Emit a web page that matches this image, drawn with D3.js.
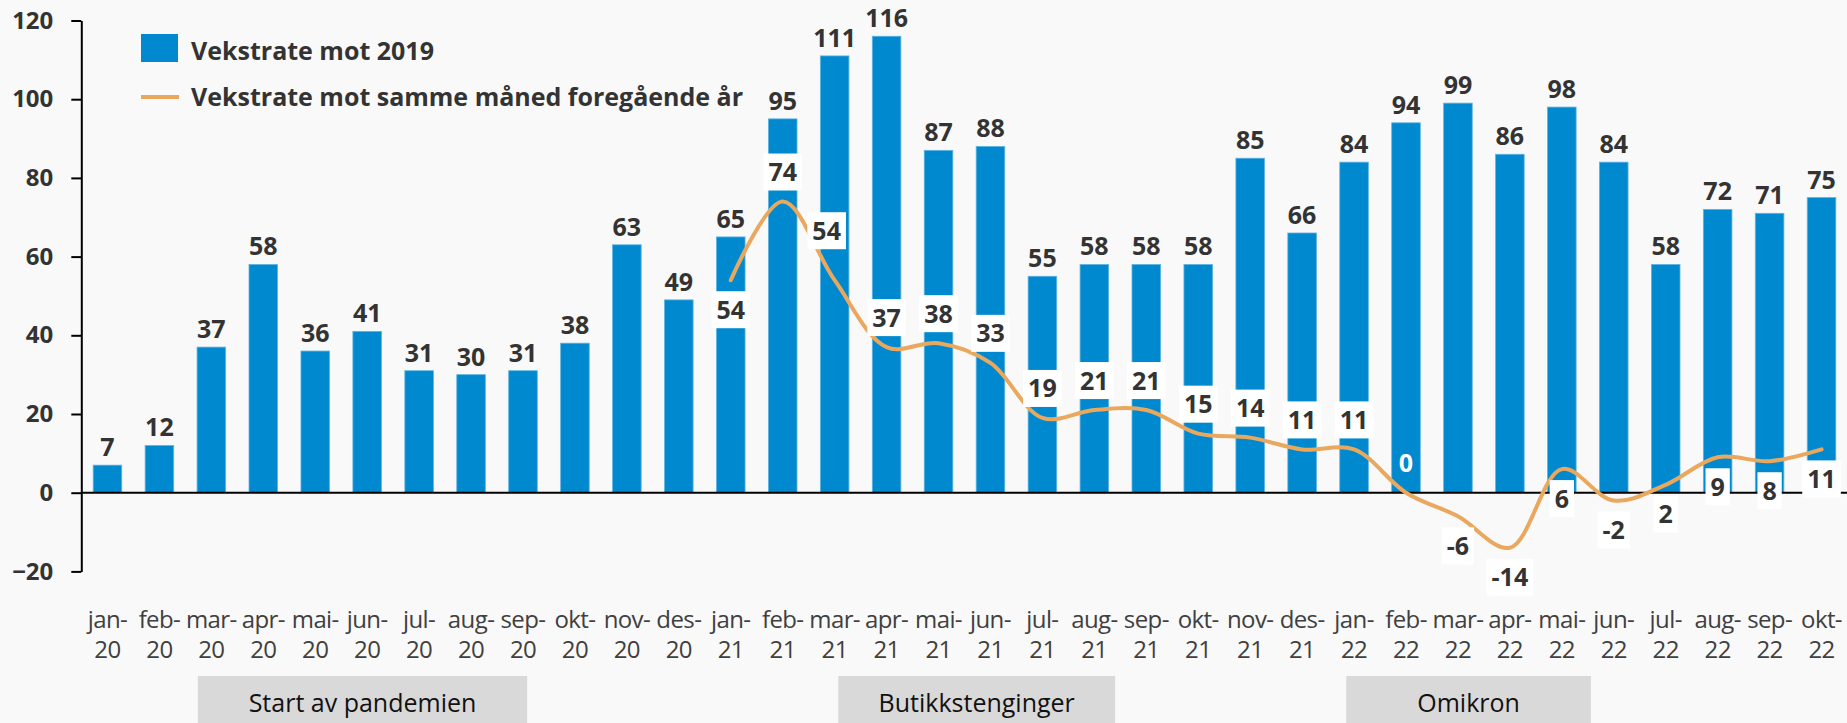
<!DOCTYPE html>
<html>
<head>
<meta charset="utf-8">
<script src="https://cdn.jsdelivr.net/npm/d3@7/dist/d3.min.js"></script>
<style>
  body { margin: 0; background: #f9f9f9; }
  svg text { font-family: "Open Sans", sans-serif; }
</style>
</head>
<body>
<script>
const categories = [
    "jan-20","feb-20","mar-20","apr-20","mai-20","jun-20","jul-20","aug-20","sep-20","okt-20","nov-20","des-20",
    "jan-21","feb-21","mar-21","apr-21","mai-21","jun-21","jul-21","aug-21","sep-21","okt-21","nov-21","des-21",
    "jan-22","feb-22","mar-22","apr-22","mai-22","jun-22","jul-22","aug-22","sep-22","okt-22"
]
// Vekstrate mot 2019
const vs2019 = [
    7, 12, 37, 58, 36, 41, 31, 30, 31, 38, 63, 49,
    65, 95, 111, 116, 87, 88, 55, 58, 58, 58, 85, 66,
    84, 94, 99, 86, 98, 84, 58, 72, 71, 75
]
// Vekstrate mot samme måned foregående år (from jan-21)
const vsPrevYear = [
    null, null, null, null, null, null, null, null, null, null, null, null,
    54, 74, 54, 37, 38, 33, 19, 21, 21, 15, 14, 11,
    11, 0, -6, -14, 6, -2, 2, 9, 8, 11
]
const yTicks = [-20, 0, 20, 40, 60, 80, 100, 120]
const legendNames = ["Vekstrate mot 2019", "Vekstrate mot samme måned foregående år"]
// spans given in month-index units (0 = jan-20)
const periods = [
    { text: "Start av pandemien", from: 1.74, to: 8.08 },
    { text: "Butikkstenginger", from: 14.07, to: 19.4 },
    { text: "Omikron", from: 23.85, to: 28.56 }
]

// label placement for the line series (layout only)
const lineLabelSide = {
    "jan-21": "below", "mar-22": "below", "apr-22": "below", "mai-22": "below", "jun-22": "below",
    "jul-22": "below", "aug-22": "below", "sep-22": "below", "okt-22": "below"
}

const width = 1847
const height = 723
const blue = "#0089ce"
const orange = "#e9a85e"
const textColor = "#333"

const svg = d3.select("body").append("svg")
    .attr("width", width)
    .attr("height", height)

const x = d3.scaleBand()
    .domain(categories)
    .range([81.5, 1847.5])
    .paddingInner(0.45)
    .paddingOuter(0.225)

const y = d3.scaleLinear()
    .domain([-20, 120])
    .range([571.4, 20.5])

const cx = d => x(d) + x.bandwidth() / 2

// y axis
const yAxis = svg.append("g")
    .attr("transform", "translate(81.3,0)")
    .call(d3.axisLeft(y).tickValues(yTicks).tickSize(10).tickSizeOuter(0).tickPadding(18))
yAxis.select(".domain").attr("stroke", "#000").attr("stroke-width", 2)
yAxis.selectAll(".tick line").attr("stroke", "#000").attr("stroke-width", 2)
yAxis.selectAll(".tick text")
    .attr("fill", textColor)
    .attr("font-size", 24)
    .attr("font-weight", "bold")
    .attr("font-family", "Open Sans")

// bars
svg.append("g")
    .selectAll("rect")
    .data(categories)
    .join("rect")
    .attr("x", d => x(d))
    .attr("width", x.bandwidth())
    .attr("y", (d, i) => y(vs2019[i]))
    .attr("height", (d, i) => y(0) - y(vs2019[i]))
    .attr("fill", blue)
    .attr("stroke", "#5eb3e2")
    .attr("stroke-width", 0.8)

svg.append("g")
    .selectAll("text")
    .data(categories)
    .join("text")
    .attr("x", d => cx(d))
    .attr("y", (d, i) => y(vs2019[i]) - 9)
    .attr("text-anchor", "middle")
    .attr("font-size", 25)
    .attr("font-weight", "bold")
    .attr("fill", textColor)
    .text((d, i) => vs2019[i])

// zero line
svg.append("line")
    .attr("x1", 81.3)
    .attr("x2", width)
    .attr("y1", y(0))
    .attr("y2", y(0))
    .attr("stroke", "#000")
    .attr("stroke-width", 2)

// growth vs previous year
const linePoints = categories.map((c, i) => ({ c: c, v: vsPrevYear[i] })).filter(d => d.v !== null)

const line = d3.line()
    .x(d => cx(d.c))
    .y(d => y(d.v))
    .curve(d3.curveCatmullRom.alpha(0.5))

svg.append("path")
    .datum(linePoints)
    .attr("d", line)
    .attr("fill", "none")
    .attr("stroke", orange)
    .attr("stroke-width", 4)
    .attr("stroke-linecap", "round")

const lineLabels = svg.append("g")
    .selectAll("g")
    .data(linePoints)
    .join("g")

lineLabels.each(function (d) {
    const g = d3.select(this)
    const below = lineLabelSide[d.c] === "below"
    let boxH = 37
    let boxTop = below ? y(d.v) + 11 : y(d.v) - 11 - boxH
    let px = cx(d.c)
    // manually nudged label in the reference
    if (d.c === "mar-21") { boxTop -= 20; px -= 8 }
    const rect = g.append("rect").attr("fill", d.v === 0 ? "none" : "#fff")
    const t = g.append("text")
        .attr("x", px)
        .attr("y", boxTop + boxH / 2 + 9)
        .attr("text-anchor", "middle")
        .attr("font-size", 25)
        .attr("font-weight", "bold")
        .attr("fill", d.v === 0 ? "#fff" : textColor)
        .text(d.v)
    const w = t.node().getComputedTextLength() + 10
    rect.attr("x", px - w / 2).attr("y", boxTop).attr("width", w).attr("height", boxH)
})

// category labels
const catLabels = svg.append("g")
    .selectAll("text")
    .data(categories)
    .join("text")
    .attr("text-anchor", "middle")
    .attr("font-size", 24)
    .attr("letter-spacing", -0.6)
    .attr("fill", "#404040")

catLabels.append("tspan")
    .attr("x", d => cx(d))
    .attr("y", 628)
    .text(d => d.split("-")[0] + "-")
catLabels.append("tspan")
    .attr("x", d => cx(d))
    .attr("y", 658)
    .text(d => d.split("-")[1])

// period boxes
const idx = d3.scaleLinear()
    .domain([0, categories.length - 1])
    .range([cx(categories[0]), cx(categories[categories.length - 1])])

const periodG = svg.append("g")
    .selectAll("g")
    .data(periods)
    .join("g")

periodG.append("rect")
    .attr("x", d => idx(d.from))
    .attr("width", d => idx(d.to) - idx(d.from))
    .attr("y", 676)
    .attr("height", 47)
    .attr("fill", "#d9d9d9")

periodG.append("text")
    .attr("x", d => (idx(d.from) + idx(d.to)) / 2)
    .attr("y", 712)
    .attr("text-anchor", "middle")
    .attr("font-size", 25)
    .attr("fill", "#111")
    .text(d => d.text)

// legend
const legend = svg.append("g")
legend.append("rect")
    .attr("x", 141).attr("y", 34)
    .attr("width", 37).attr("height", 28)
    .attr("fill", blue)
legend.append("line")
    .attr("x1", 141).attr("x2", 179)
    .attr("y1", 97).attr("y2", 97)
    .attr("stroke", orange)
    .attr("stroke-width", 4)
legend.selectAll("text")
    .data(legendNames)
    .join("text")
    .attr("x", 191)
    .attr("y", (d, i) => 60 + i * 46)
    .attr("font-size", 25)
    .attr("font-weight", "bold")
    .attr("fill", textColor)
    .text(d => d)
</script>
</body>
</html>
